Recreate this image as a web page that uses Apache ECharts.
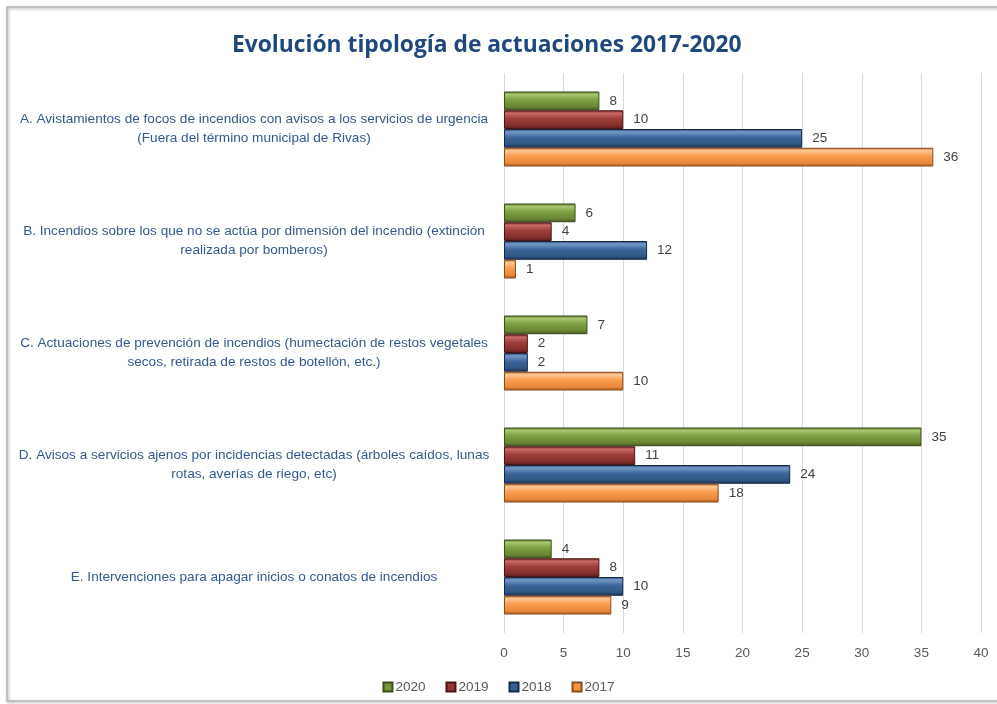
<!DOCTYPE html>
<html>
<head>
<meta charset="utf-8">
<script src="https://cdn.jsdelivr.net/npm/echarts@6/dist/echarts.min.js"></script>
<style>html,body{margin:0;padding:0;background:#fff;}#c{width:997px;height:704px;}</style>
</head>
<body>
<div id="c"></div>
<script>
var categories = [
  "A. Avistamientos de focos de incendios con avisos a los servicios de urgencia\n(Fuera del término municipal de Rivas)",
  "B. Incendios sobre los que no se actúa por dimensión del incendio (extinción\nrealizada por bomberos)",
  "C. Actuaciones de prevención de incendios (humectación de restos vegetales\nsecos, retirada de restos de botellón, etc.)",
  "D. Avisos a servicios ajenos por incidencias detectadas (árboles caídos, lunas\nrotas, averías de riego, etc)",
  "E. Intervenciones para apagar inicios o conatos de incendios"
];
var seriesNames = ["2020", "2019", "2018", "2017"];
var v2020 = [8, 6, 7, 35, 4];
var v2019 = [10, 4, 2, 11, 8];
var v2018 = [25, 12, 2, 24, 10];
var v2017 = [36, 1, 10, 18, 9];
var xTicks = [0, 5, 10, 15, 20, 25, 30, 35, 40];

var values = [v2020, v2019, v2018, v2017];
var styles = [
  {base: '#77933c', stops: ['#4f6526', '#a9c66e', '#7f9e42', '#6a8534', '#3f521c'], border: '#3d4f1b'},
  {base: '#953735', stops: ['#5e1f1e', '#c86a68', '#9c3c3a', '#842e2c', '#4e1716'], border: '#4a1514'},
  {base: '#376092', stops: ['#1e3a5f', '#7399c8', '#3d679c', '#2f5683', '#17304f'], border: '#142a47'},
  {base: '#f79646', stops: ['#b9692a', '#fdc893', '#f99d50', '#e8873a', '#a35c22'], border: '#8a4c1b'}
];
function grad(s) {
  return new echarts.graphic.LinearGradient(0, 0, 0, 1, [
    {offset: 0, color: s.stops[0]},
    {offset: 0.15, color: s.stops[1]},
    {offset: 0.45, color: s.stops[2]},
    {offset: 0.82, color: s.stops[3]},
    {offset: 1, color: s.stops[4]}
  ]);
}

var chart = echarts.init(document.getElementById('c'));
var series = seriesNames.map(function (n, i) {
  return {
    name: n,
    type: 'bar',
    data: values[i],
    barGap: '0%',
    barCategoryGap: '33%',
    itemStyle: {color: grad(styles[i]), borderColor: styles[i].border, borderWidth: 1},
    label: {
      show: true, position: 'right', distance: 10,
      color: '#404040', fontSize: 13.5, fontFamily: 'Liberation Sans'
    }
  };
});

chart.setOption({
  animation: false,
  backgroundColor: '#ffffff',
  title: {
    text: 'Evolución tipología de actuaciones 2017-2020',
    left: 227, top: 29,
    textStyle: {color: '#1f497d', fontSize: 22.8, fontWeight: 'bold', fontFamily: 'Open Sans'}
  },
  legend: {
    bottom: 5, left: 'center',
    itemWidth: 9, itemHeight: 9, itemGap: 20,
    icon: 'rect',
    textStyle: {color: '#595959', fontSize: 13.5, fontFamily: 'Liberation Sans', padding: [0, 0, 0, -2]},
    data: seriesNames.map(function (n, i) { return {name: n, itemStyle: {color: styles[i].base}}; })
  },
  grid: {left: 504, right: 16, top: 73, bottom: 71, containLabel: false},
  xAxis: {
    type: 'value', min: xTicks[0], max: xTicks[xTicks.length - 1], interval: 5,
    axisLine: {show: false},
    axisTick: {show: false},
    splitLine: {show: true, lineStyle: {color: '#d9d9d9', width: 1}},
    axisLabel: {color: '#595959', fontSize: 13.5, fontFamily: 'Liberation Sans', margin: 13}
  },
  yAxis: {
    type: 'category', data: categories, inverse: true,
    axisLine: {show: false},
    axisTick: {show: false},
    axisLabel: {
      margin: 14, align: 'right',
      formatter: function (v) { return v.split('\n').map(function (l) { return '{a|' + l + '}'; }).join('\n'); },
      rich: {a: {width: 472, align: 'center', color: '#34598e', fontSize: 13.6, lineHeight: 19, fontFamily: 'Liberation Sans'}}
    }
  },
  graphic: [{
    type: 'rect', z: -10, silent: true,
    shape: {x: 7, y: 7, width: 1000, height: 694},
    style: {fill: 'none', stroke: '#b5b5b5', lineWidth: 1.5, shadowBlur: 3, shadowColor: 'rgba(0,0,0,0.35)', shadowOffsetX: 1, shadowOffsetY: 1}
  }],
  series: series
});
</script>
</body>
</html>
